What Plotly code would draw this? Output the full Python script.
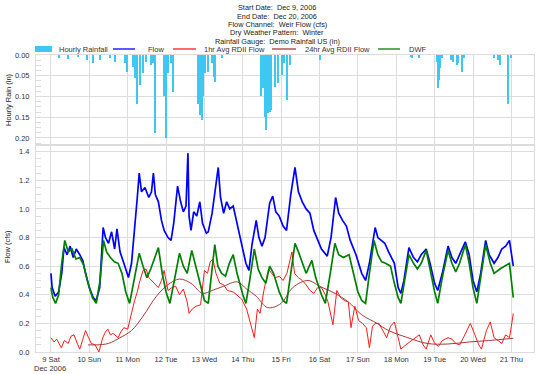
import numpy as np
import pandas as pd
import plotly.graph_objects as go

# ---------------- data (time in decimal day-of-December 2006) ----------------
flow_day = [9.00, 9.03, 9.11, 9.20, 9.28, 9.34, 9.42, 9.50, 9.58, 9.66, 9.75, 9.83, 9.90, 10.00, 10.10, 10.18,
            10.27, 10.36, 10.42, 10.50, 10.58, 10.66, 10.72, 10.80, 10.90, 11.02, 11.10, 11.18, 11.25, 11.30,
            11.36, 11.45, 11.55, 11.62, 11.67, 11.72, 11.80, 11.88, 11.95, 12.05, 12.13, 12.20, 12.30, 12.38,
            12.45, 12.52, 12.57, 12.60, 12.65, 12.72, 12.80, 12.88, 12.95, 13.05, 13.10, 13.20, 13.30, 13.36,
            13.42, 13.50, 13.58, 13.66, 13.75, 13.85, 14.00, 14.08, 14.16, 14.24, 14.35, 14.42, 14.50, 14.58,
            14.70, 14.78, 14.86, 14.95, 15.05, 15.14, 15.25, 15.36, 15.45, 15.55, 15.65, 15.75, 15.85, 15.95,
            16.05, 16.20, 16.30, 16.42, 16.50, 16.60, 16.70, 16.80, 16.95, 17.10, 17.20, 17.30, 17.45, 17.52,
            17.60, 17.70, 17.80, 17.95, 18.05, 18.12, 18.20, 18.33, 18.45, 18.55, 18.65, 18.78, 18.88, 19.00,
            19.08, 19.20, 19.35, 19.45, 19.55, 19.65, 19.80, 19.90, 20.00, 20.10, 20.20, 20.33, 20.42, 20.55,
            20.65, 20.75, 20.85, 20.95, 21.00, 21.05]
flow_val = [0.55, 0.45, 0.39, 0.42, 0.55, 0.73, 0.68, 0.74, 0.66, 0.72, 0.68, 0.64, 0.55, 0.45, 0.38, 0.36,
            0.45, 0.87, 0.80, 0.76, 0.84, 0.72, 0.86, 0.70, 0.62, 0.52, 0.62, 0.90, 1.08, 1.25,
            1.12, 1.15, 1.08, 1.12, 1.25, 1.10, 1.05, 0.92, 0.85, 0.80, 0.78, 0.90, 1.16, 1.05,
            0.98, 1.02, 1.39, 0.95, 0.85, 0.98, 0.95, 1.05, 0.90, 0.83, 0.84, 0.97, 1.15, 1.29,
            1.08, 0.97, 1.05, 1.00, 1.02, 0.90, 0.71, 0.62, 0.57, 0.75, 0.92, 0.80, 0.74, 0.80,
            1.04, 1.09, 0.98, 0.95, 0.88, 0.85, 1.10, 1.29, 1.12, 1.05, 1.00, 0.97, 0.85, 0.79,
            0.72, 0.67, 0.80, 1.08, 0.97, 0.92, 0.88, 0.78, 0.68, 0.55, 0.50, 0.62, 0.87, 0.80,
            0.78, 0.76, 0.70, 0.62, 0.45, 0.41, 0.50, 0.73, 0.66, 0.63, 0.68, 0.72, 0.62, 0.48,
            0.43, 0.55, 0.74, 0.66, 0.62, 0.68, 0.77, 0.68, 0.50, 0.42, 0.55, 0.78, 0.68, 0.62,
            0.66, 0.72, 0.74, 0.78, 0.70, 0.60]

dwf_day = [9.00, 9.05, 9.12, 9.20, 9.28, 9.36, 9.45, 9.55, 9.65, 9.75, 9.85, 9.95, 10.08, 10.18, 10.28, 10.37,
           10.45, 10.55, 10.65, 10.75, 10.85, 10.95, 11.05, 11.15, 11.30, 11.40, 11.50, 11.60, 11.70, 11.80,
           11.90, 12.00, 12.10, 12.20, 12.35, 12.45, 12.55, 12.67, 12.78, 12.90, 13.00, 13.10, 13.18, 13.27,
           13.35, 13.45, 13.55, 13.65, 13.75, 13.85, 14.00, 14.08, 14.18, 14.30, 14.40, 14.50, 14.60, 14.70,
           14.80, 14.95, 15.05, 15.14, 15.25, 15.36, 15.45, 15.55, 15.65, 15.80, 15.90, 16.05, 16.15, 16.28,
           16.40, 16.50, 16.62, 16.77, 16.88, 17.00, 17.10, 17.20, 17.30, 17.42, 17.52, 17.62, 17.72, 17.85,
           17.95, 18.05, 18.12, 18.22, 18.33, 18.45, 18.55, 18.65, 18.78, 18.88, 19.00, 19.08, 19.20, 19.35,
           19.45, 19.55, 19.65, 19.80, 19.90, 20.00, 20.10, 20.20, 20.33, 20.45, 20.55, 20.70, 20.82, 20.95,
           21.00, 21.05]
dwf_val = [0.45, 0.38, 0.34, 0.40, 0.62, 0.78, 0.70, 0.72, 0.65, 0.66, 0.61, 0.50, 0.38, 0.34, 0.50, 0.78,
           0.70, 0.66, 0.63, 0.62, 0.55, 0.42, 0.34, 0.48, 0.69, 0.60, 0.52, 0.58, 0.66, 0.73,
           0.55, 0.42, 0.34, 0.48, 0.69, 0.60, 0.55, 0.71, 0.60, 0.48, 0.36, 0.34, 0.55, 0.75,
           0.60, 0.55, 0.53, 0.62, 0.68, 0.55, 0.40, 0.34, 0.50, 0.72, 0.58, 0.52, 0.48, 0.60,
           0.55, 0.42, 0.36, 0.34, 0.55, 0.76, 0.70, 0.62, 0.55, 0.64, 0.52, 0.40, 0.34, 0.55,
           0.76, 0.68, 0.66, 0.68, 0.55, 0.42, 0.36, 0.34, 0.55, 0.78, 0.68, 0.63, 0.62, 0.60,
           0.48, 0.38, 0.34, 0.50, 0.68, 0.62, 0.58, 0.62, 0.71, 0.58, 0.42, 0.34, 0.52, 0.71,
           0.62, 0.56, 0.62, 0.75, 0.62, 0.45, 0.34, 0.52, 0.75, 0.62, 0.55, 0.58, 0.60, 0.62,
           0.50, 0.38]

rdii1_day = [9.00, 9.08, 9.15, 9.27, 9.35, 9.45, 9.52, 9.60, 9.70, 9.75, 9.82, 9.90, 9.98, 10.05, 10.15, 10.25,
             10.35, 10.42, 10.48, 10.55, 10.62, 10.75, 10.82, 10.90, 11.00, 11.10, 11.18, 11.25, 11.30, 11.40,
             11.48, 11.55, 11.62, 11.72, 11.80, 11.88, 11.95, 12.05, 12.15, 12.25, 12.35, 12.45, 12.55, 12.60,
             12.68, 12.78, 12.90, 13.00, 13.08, 13.15, 13.22, 13.30, 13.40, 13.50, 13.60, 13.75, 13.85, 13.97,
             14.10, 14.20, 14.30, 14.38, 14.45, 14.55, 14.67, 14.75, 14.85, 14.95, 15.05, 15.15, 15.28, 15.35,
             15.45, 15.55, 15.65, 15.75, 15.85, 15.95, 16.05, 16.15, 16.22, 16.35, 16.45, 16.55, 16.65, 16.75,
             16.82, 16.92, 17.02, 17.12, 17.22, 17.30, 17.38, 17.45, 17.55, 17.65, 17.75, 17.85, 17.95, 18.05,
             18.12, 18.25, 18.35, 18.50, 18.60, 18.70, 18.78, 18.90, 19.00, 19.10, 19.20, 19.35, 19.45, 19.55,
             19.65, 19.75, 19.93, 20.05, 20.15, 20.22, 20.35, 20.45, 20.55, 20.65, 20.75, 20.85, 20.95, 21.00,
             21.05]
rdii1_val = [0.10, 0.07, 0.09, 0.03, 0.08, 0.06, 0.11, 0.12, 0.05, 0.02, 0.08, 0.15, 0.10, 0.06, 0.05, 0.00,
             0.10, 0.14, 0.16, 0.12, 0.13, 0.10, 0.14, 0.17, 0.16, 0.28, 0.36, 0.42, 0.48, 0.57,
             0.58, 0.52, 0.50, 0.47, 0.45, 0.50, 0.57, 0.43, 0.45, 0.46, 0.40, 0.44, 0.35, 0.27,
             0.30, 0.32, 0.33, 0.57, 0.55, 0.63, 0.65, 0.55, 0.48, 0.47, 0.43, 0.42, 0.40, 0.37,
             0.30, 0.20, 0.10, 0.30, 0.27, 0.43, 0.58, 0.55, 0.52, 0.53, 0.50, 0.55, 0.70, 0.55,
             0.52, 0.50, 0.47, 0.43, 0.41, 0.45, 0.45, 0.40, 0.35, 0.19, 0.43, 0.38, 0.36, 0.35,
             0.17, 0.32, 0.22, 0.20, 0.17, 0.03, 0.18, 0.20, 0.20, 0.15, 0.10, 0.18, 0.21, 0.10,
             0.02, 0.05, 0.07, 0.10, 0.12, 0.05, 0.02, 0.12, 0.06, 0.04, 0.08, 0.10, 0.09, 0.06,
             0.05, 0.10, 0.20, 0.12, 0.05, 0.02, 0.15, 0.21, 0.10, 0.08, 0.06, 0.12, 0.10, 0.18,
             0.27]

rdii24_day = [9.97, 10.20, 10.50, 10.80, 11.10, 11.40, 11.75, 12.05, 12.35, 12.65, 12.95, 13.20, 13.50, 13.86,
              14.10, 14.35, 14.65, 15.00, 15.30, 15.70, 16.00, 16.40, 16.75, 17.10, 17.50, 17.80, 18.30, 18.80,
              19.35, 19.90, 20.40, 21.05]
rdii24_val = [0.05, 0.05, 0.06, 0.10, 0.15, 0.25, 0.39, 0.47, 0.51, 0.48, 0.41, 0.43, 0.46, 0.49,
              0.44, 0.39, 0.31, 0.34, 0.45, 0.50, 0.46, 0.41, 0.35, 0.26, 0.20, 0.15, 0.10, 0.06,
              0.056, 0.07, 0.08, 0.096]

rain_day = [9.20, 9.45, 9.70, 9.95, 10.10, 10.27, 10.53, 10.67, 10.94, 10.99, 11.13, 11.20, 11.24, 11.33, 11.39,
            11.49, 11.60, 11.66, 11.70, 11.95, 12.00, 12.04, 12.13, 12.19, 12.84, 12.88, 12.93, 12.97, 13.02,
            13.10, 13.19, 13.24, 13.28, 13.46, 14.48, 14.52, 14.57, 14.61, 14.66, 14.70, 14.74, 14.83, 14.92,
            15.01, 15.07, 15.16, 15.23, 16.01, 18.38, 18.42, 18.60, 19.05, 19.09, 19.12, 19.15, 19.20, 19.44,
            19.49, 19.58, 19.62, 19.71, 19.77, 20.55, 20.64, 20.71, 20.91, 21.00]
rain_val = [0.008, 0.010, 0.006, 0.012, 0.020, 0.012, 0.008, 0.016, 0.020, 0.040, 0.028, 0.056, 0.117, 0.072, 0.044,
            0.016, 0.024, 0.020, 0.189, 0.100, 0.200, 0.044, 0.020, 0.089, 0.117, 0.145, 0.157, 0.100, 0.044,
            0.040, 0.020, 0.052, 0.064, 0.008, 0.100, 0.080, 0.149, 0.181, 0.141, 0.137, 0.133, 0.077, 0.068,
            0.048, 0.020, 0.109, 0.024, 0.012, 0.006, 0.008, 0.008, 0.016, 0.080, 0.060, 0.032, 0.008, 0.012,
            0.016, 0.024, 0.020, 0.040, 0.008, 0.008, 0.012, 0.024, 0.117, 0.008]

tick_days = [9, 10, 11, 12, 13, 14, 15, 16, 17, 18, 19, 20, 21]
tick_labels = ["9 Sat", "10 Sun", "11 Mon", "12 Tue", "13 Wed", "14 Thu", "15 Fri",
               "16 Sat", "17 Sun", "18 Mon", "19 Tue", "20 Wed", "21 Thu"]
month_label = "Dec 2006"
title_lines = ["Start Date:  Dec 9, 2006", "End Date:  Dec 20, 2006", "Flow Channel:  Weir Flow (cfs)",
               "Dry Weather Pattern:  Winter", "Rainfall Gauge:  Demo Rainfall US (in)"]
series_names = ["Hourly Rainfall", "Flow", "1hr Avg RDII Flow", "24hr Avg RDII Flow", "DWF"]
series_colors = ["#3cc8f2", "#0000ff", "#ff1a1a", "#a83838", "#008000"]

# ---------------- helpers ----------------
BASE = pd.Timestamp("2006-12-09")


def to_dt(days):
    return BASE + pd.to_timedelta(np.asarray(days, dtype=float) - 9.0, unit="D")


FONT = "Liberation Sans, Arial, sans-serif"
GRID = "#dcdcdc"
L, R, T, B, W, H = 36, 4, 55, 22, 538, 374
PW, PH = W - L - R, H - T - B


def px_x(px):
    return (px - L) / PW


def px_y(py):
    return (H - B - py) / PH


fig = go.Figure()
fig.add_trace(go.Bar(x=to_dt(rain_day), y=rain_val, width=2400000, name=series_names[0],
                     marker=dict(color=series_colors[0], line=dict(width=0)), xaxis="x2", yaxis="y2",
                     showlegend=False))
fig.add_trace(go.Scatter(x=to_dt(flow_day), y=flow_val, mode="lines", name=series_names[1],
                         line=dict(color=series_colors[1], width=1.7), showlegend=False))
fig.add_trace(go.Scatter(x=to_dt(rdii1_day), y=rdii1_val, mode="lines", name=series_names[2],
                         line=dict(color=series_colors[2], width=1), showlegend=False))
fig.add_trace(go.Scatter(x=to_dt(rdii24_day), y=rdii24_val, mode="lines", name=series_names[3],
                         line=dict(color=series_colors[3], width=1), line_shape="spline", showlegend=False))
fig.add_trace(go.Scatter(x=to_dt(dwf_day), y=dwf_val, mode="lines", name=series_names[4],
                         line=dict(color=series_colors[4], width=1.7), showlegend=False))

x_range = [to_dt([8.61])[0], to_dt([21.59])[0]]
xaxis_common = dict(range=x_range, type="date", tickvals=to_dt(tick_days), showgrid=True,
                    gridcolor=GRID, gridwidth=1, showline=True, linecolor=GRID, mirror=True,
                    zeroline=False, ticks="")

fig.update_layout(
    width=W, height=H,
    margin=dict(l=L, r=R, t=T, b=B),
    paper_bgcolor="white", plot_bgcolor="white",
    font=dict(family=FONT, size=8, color="#333333"),
    bargap=0,
    xaxis=dict(**xaxis_common, anchor="y", ticktext=tick_labels, automargin=False,
               tickfont=dict(size=7.5, color="#333333")),
    xaxis2=dict(**xaxis_common, anchor="y2", matches="x", showticklabels=False),
    yaxis=dict(domain=[0, 0.697], range=[0, 1.447], dtick=0.2, tickformat=".1f", automargin=False,
               showgrid=True, gridcolor=GRID, showline=True, linecolor=GRID, mirror=True,
               zeroline=False, ticks="", ticklabelstandoff=4, tickfont=dict(size=7.5),
               minor=dict(ticks="inside", ticklen=5, dtick=0.05, tickcolor=GRID, showgrid=False)),
    yaxis2=dict(domain=[0.697, 1], range=[0.217, 0], dtick=0.05, tickformat=".2f", automargin=False,
                showgrid=True, gridcolor=GRID, showline=True, linecolor=GRID, mirror=True,
                zeroline=False, ticks="", ticklabelstandoff=4, tickfont=dict(size=7.5),
                minor=dict(ticks="inside", ticklen=5, dtick=0.0125, tickcolor=GRID, showgrid=False)),
    showlegend=False,
)

# ---- manual legend (compact, like the reference) ----
leg_y = px_y(49)
sym_px = [(35, 52), (113, 135), (173, 196), (272, 296), (378, 400)]
text_px = [57, 146, 202, 303, 407]
for i, (name, col) in enumerate(zip(series_names, series_colors)):
    x0, x1 = sym_px[i]
    if i == 0:
        fig.add_shape(type="rect", xref="paper", yref="paper", x0=px_x(x0), x1=px_x(x1),
                      y0=px_y(52), y1=px_y(46), fillcolor=col, line=dict(width=0))
    else:
        fig.add_shape(type="line", xref="paper", yref="paper", x0=px_x(x0), x1=px_x(x1),
                      y0=leg_y, y1=leg_y, line=dict(color=col, width=1.3))
    fig.add_annotation(text=name, x=px_x(text_px[i]), y=leg_y, xref="paper", yref="paper",
                       showarrow=False, xanchor="left", yanchor="middle",
                       font=dict(size=7.5, color="#333333"))

# title lines (annotations for tight spacing)
title_py = [8, 16.3, 24.5, 32.8, 41]
for txt, py in zip(title_lines, title_py):
    fig.add_annotation(text=txt, x=px_x(277), y=px_y(py), xref="paper", yref="paper", showarrow=False,
                       xanchor="center", yanchor="middle", font=dict(size=7.3, color="#222222"))

# month label under first tick
fig.add_annotation(text=month_label, x=px_x(50), y=px_y(368), xref="paper", yref="paper",
                   showarrow=False, xanchor="center", yanchor="middle",
                   font=dict(size=7.5, color="#333333"))

# axis titles
fig.add_annotation(text="Hourly Rain (in)", x=px_x(8), y=px_y(100), xref="paper", yref="paper",
                   showarrow=False, textangle=-90, font=dict(size=7.5, color="#222222"),
                   xanchor="center", yanchor="middle")
fig.add_annotation(text="Flow (cfs)", x=px_x(8), y=px_y(247), xref="paper", yref="paper",
                   showarrow=False, textangle=-90, font=dict(size=7.5, color="#222222"),
                   xanchor="center", yanchor="middle")

fig.write_html("out.html", config={"displayModeBar": False},
               post_script="document.body.style.margin='0';")
